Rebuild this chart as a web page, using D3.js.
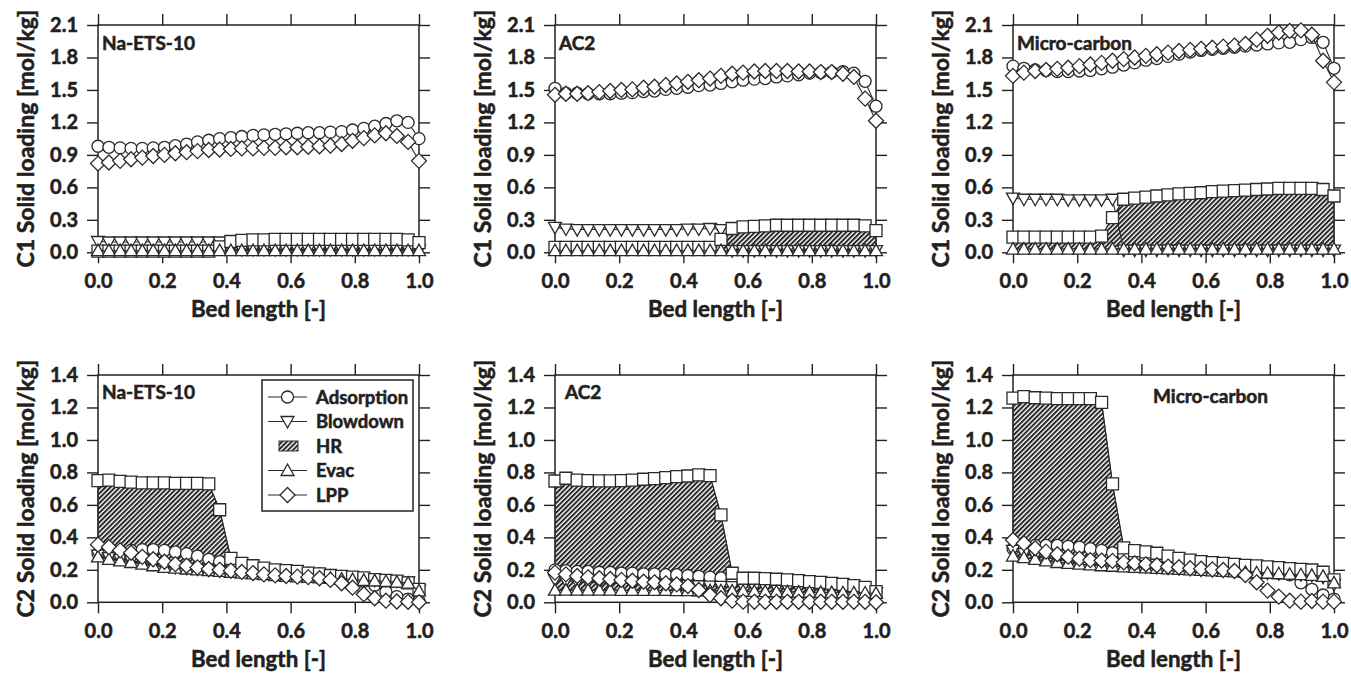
<!DOCTYPE html>
<html lang="en">
<head>
<meta charset="UTF-8">
<title>Solid loading profiles</title>
<style>
  body { margin: 0; background: #fff; }
  svg { display: block; background: #fff; }
  text { font-family: Lato, "Open Sans", sans-serif; font-weight: 700; fill: #231f20;
         stroke: #231f20; stroke-width: 0.55px; paint-order: stroke; }
</style>
<script src="https://d3js.org/d3.v7.min.js"></script>
</head>
<body>
<svg id="chart" width="1351" height="674"></svg>
<script>
// ---- data ----
const bedLength = [0, 0.034, 0.069, 0.103, 0.138, 0.172, 0.207, 0.241, 0.276, 0.310,
  0.345, 0.379, 0.414, 0.448, 0.483, 0.517, 0.552, 0.586, 0.621, 0.655,
  0.690, 0.724, 0.759, 0.793, 0.828, 0.862, 0.897, 0.931, 0.966, 1.000];

const xTicks = [0, 0.2, 0.4, 0.6, 0.8, 1.0];
const c1Ticks = [0, 0.3, 0.6, 0.9, 1.2, 1.5, 1.8, 2.1];
const c2Ticks = [0, 0.2, 0.4, 0.6, 0.8, 1.0, 1.2, 1.4];
const materials = ["Na-ETS-10", "AC2", "Micro-carbon"];
const stepNames = ["Adsorption", "Blowdown", "HR", "Evac", "LPP"];

// C1, Na-ETS-10
const c1NaAds  = [0.98,0.97,0.965,0.96,0.96,0.965,0.97,0.985,1.00,1.02,1.035,1.05,1.06,1.07,1.08,1.085,1.09,1.095,1.10,1.105,1.105,1.11,1.115,1.13,1.145,1.165,1.19,1.215,1.20,1.05];
const c1NaBlow = [0.10,0.095,0.095,0.095,0.095,0.095,0.095,0.095,0.095,0.095,0.095,0.095,0.03,0.025,0.025,0.025,0.025,0.025,0.025,0.025,0.025,0.025,0.025,0.025,0.025,0.025,0.025,0.025,0.025,0.02];
const c1NaHR   = [0.01,0.01,0.01,0.01,0.01,0.01,0.01,0.01,0.01,0.01,0.01,0.05,0.10,0.11,0.115,0.115,0.12,0.12,0.12,0.12,0.12,0.12,0.12,0.12,0.12,0.12,0.12,0.12,0.115,0.09];
const c1NaEvac = [0.015,0.015,0.015,0.015,0.015,0.015,0.015,0.015,0.015,0.015,0.015,0.015,0.015,0.015,0.015,0.015,0.015,0.015,0.015,0.015,0.015,0.015,0.015,0.015,0.015,0.015,0.015,0.015,0.015,0.015];
const c1NaLPP  = [0.82,0.83,0.845,0.86,0.875,0.89,0.90,0.915,0.925,0.935,0.945,0.95,0.955,0.96,0.96,0.965,0.965,0.97,0.97,0.975,0.98,0.985,1.00,1.03,1.055,1.08,1.10,1.075,1.02,0.845];

// C1, AC2
const c1AcAds  = [1.515,1.47,1.47,1.465,1.465,1.465,1.47,1.475,1.485,1.49,1.505,1.515,1.525,1.54,1.545,1.56,1.575,1.59,1.60,1.605,1.62,1.63,1.64,1.655,1.66,1.665,1.67,1.655,1.58,1.35];
const c1AcBlow = [0.23,0.215,0.21,0.21,0.21,0.21,0.21,0.21,0.21,0.21,0.21,0.21,0.215,0.215,0.22,0.21,0.015,0.015,0.015,0.015,0.015,0.015,0.015,0.015,0.015,0.015,0.015,0.015,0.015,0.015];
const c1AcHR   = [0.045,0.045,0.045,0.045,0.045,0.045,0.045,0.045,0.045,0.045,0.045,0.045,0.045,0.045,0.045,0.12,0.22,0.235,0.24,0.245,0.25,0.25,0.25,0.25,0.25,0.25,0.25,0.25,0.245,0.20];
const c1AcEvac = [0.015,0.015,0.015,0.015,0.015,0.015,0.015,0.015,0.015,0.015,0.015,0.015,0.015,0.015,0.015,0.015,0.015,0.015,0.015,0.015,0.015,0.015,0.015,0.015,0.015,0.015,0.015,0.015,0.015,0.015];
const c1AcLPP  = [1.455,1.465,1.465,1.47,1.48,1.49,1.50,1.505,1.52,1.53,1.545,1.56,1.575,1.59,1.605,1.63,1.65,1.66,1.67,1.675,1.675,1.675,1.67,1.67,1.665,1.665,1.65,1.62,1.42,1.215];

// C1, Micro-carbon
const c1McAds  = [1.72,1.70,1.685,1.68,1.67,1.67,1.675,1.68,1.695,1.71,1.73,1.75,1.775,1.79,1.81,1.83,1.85,1.865,1.875,1.885,1.895,1.905,1.915,1.925,1.935,1.94,1.965,1.985,1.94,1.70];
const c1McBlow = [0.50,0.49,0.49,0.49,0.49,0.485,0.485,0.485,0.485,0.49,0.02,0.02,0.02,0.02,0.02,0.02,0.02,0.02,0.02,0.02,0.02,0.02,0.02,0.02,0.02,0.02,0.02,0.02,0.02,0.02];
const c1McHR   = [0.14,0.14,0.14,0.14,0.14,0.14,0.14,0.14,0.15,0.32,0.49,0.50,0.51,0.52,0.53,0.54,0.545,0.55,0.56,0.565,0.57,0.575,0.58,0.585,0.59,0.59,0.59,0.59,0.58,0.52];
const c1McEvac = [0.03,0.03,0.03,0.03,0.03,0.03,0.03,0.03,0.03,0.03,0.03,0.03,0.03,0.03,0.03,0.03,0.03,0.03,0.03,0.03,0.03,0.03,0.03,0.03,0.03,0.03,0.03,0.03,0.03,0.03];
const c1McLPP  = [1.63,1.66,1.675,1.685,1.695,1.705,1.72,1.735,1.75,1.77,1.785,1.80,1.815,1.83,1.845,1.86,1.87,1.88,1.89,1.90,1.91,1.925,1.965,2.00,2.03,2.045,2.05,2.01,1.77,1.57];

// C2, Na-ETS-10
const c2NaAds  = [0.30,0.31,0.315,0.32,0.325,0.325,0.32,0.31,0.30,0.285,0.265,0.25,0.235,0.22,0.21,0.20,0.195,0.19,0.185,0.18,0.175,0.165,0.16,0.145,0.13,0.105,0.065,0.035,0.02,0.01];
const c2NaBlow = [0.29,0.275,0.265,0.255,0.245,0.235,0.225,0.215,0.21,0.205,0.20,0.195,0.19,0.185,0.18,0.175,0.17,0.165,0.162,0.158,0.155,0.152,0.148,0.145,0.14,0.137,0.133,0.13,0.125,0.075];
const c2NaHR   = [0.75,0.753,0.745,0.74,0.735,0.735,0.735,0.733,0.733,0.733,0.73,0.57,0.27,0.24,0.225,0.21,0.20,0.195,0.19,0.18,0.175,0.165,0.16,0.155,0.15,0.14,0.135,0.13,0.12,0.08];
const c2NaEvac = [0.28,0.265,0.255,0.245,0.235,0.225,0.215,0.21,0.205,0.20,0.195,0.19,0.185,0.18,0.175,0.17,0.165,0.16,0.157,0.153,0.15,0.147,0.143,0.14,0.135,0.132,0.128,0.124,0.118,0.07];
const c2NaLPP  = [0.355,0.34,0.32,0.305,0.28,0.265,0.25,0.235,0.225,0.215,0.205,0.20,0.195,0.187,0.18,0.172,0.166,0.162,0.158,0.155,0.148,0.138,0.117,0.09,0.05,0.025,0.01,0.005,0.003,0.0];

// C2, AC2
const c2AcAds  = [0.20,0.195,0.19,0.19,0.185,0.185,0.18,0.18,0.175,0.175,0.17,0.17,0.165,0.16,0.155,0.15,0.145,0.14,0.135,0.13,0.125,0.12,0.115,0.11,0.105,0.10,0.095,0.09,0.08,0.065];
const c2AcBlow = [0.14,0.13,0.125,0.122,0.12,0.118,0.116,0.114,0.112,0.11,0.108,0.106,0.104,0.102,0.10,0.098,0.096,0.094,0.092,0.09,0.088,0.086,0.084,0.082,0.08,0.078,0.075,0.072,0.068,0.06];
const c2AcHR   = [0.747,0.764,0.753,0.75,0.748,0.748,0.75,0.752,0.758,0.762,0.768,0.774,0.778,0.785,0.78,0.538,0.179,0.148,0.148,0.146,0.142,0.138,0.133,0.127,0.123,0.117,0.11,0.103,0.092,0.066];
const c2AcEvac = [0.075,0.075,0.075,0.075,0.075,0.075,0.074,0.074,0.074,0.073,0.073,0.072,0.072,0.071,0.07,0.07,0.069,0.068,0.067,0.066,0.065,0.064,0.063,0.062,0.061,0.06,0.059,0.058,0.057,0.055];
const c2AcLPP  = [0.183,0.172,0.162,0.154,0.148,0.144,0.138,0.133,0.127,0.123,0.117,0.11,0.10,0.076,0.045,0.025,0.01,0.004,0.003,0.003,0.003,0.003,0.003,0.003,0.003,0.003,0.003,0.003,0.003,0.0];

// C2, Micro-carbon
const c2McAds  = [0.33,0.345,0.35,0.35,0.35,0.345,0.34,0.33,0.32,0.305,0.29,0.275,0.265,0.255,0.245,0.235,0.225,0.22,0.215,0.21,0.205,0.20,0.195,0.19,0.18,0.17,0.12,0.08,0.045,0.02];
const c2McBlow = [0.32,0.30,0.285,0.275,0.265,0.255,0.25,0.245,0.24,0.235,0.23,0.225,0.22,0.215,0.21,0.207,0.204,0.20,0.197,0.194,0.19,0.187,0.184,0.18,0.177,0.173,0.17,0.165,0.155,0.11];
const c2McHR   = [1.257,1.267,1.26,1.257,1.255,1.255,1.255,1.255,1.232,0.729,0.335,0.318,0.31,0.302,0.285,0.271,0.26,0.25,0.244,0.24,0.234,0.228,0.224,0.218,0.214,0.207,0.203,0.199,0.185,0.138];
const c2McEvac = [0.285,0.275,0.265,0.255,0.245,0.24,0.235,0.23,0.225,0.222,0.218,0.215,0.212,0.209,0.206,0.203,0.20,0.197,0.194,0.191,0.188,0.185,0.182,0.179,0.176,0.173,0.17,0.166,0.16,0.12];
const c2McLPP  = [0.384,0.363,0.333,0.312,0.296,0.281,0.269,0.26,0.257,0.255,0.246,0.24,0.234,0.228,0.22,0.216,0.21,0.207,0.203,0.199,0.193,0.168,0.123,0.072,0.035,0.01,0.004,0.008,0.004,0.004];

// ---- layout ----
const colLeft = [98, 555, 1013];
const rowTop = [25, 375];
const plotW = 321, plotH = 227.3;
const ink = "#231f20";

const panels = [
  { row: 0, col: 0, comp: "C1", ticks: c1Ticks, data: [c1NaAds, c1NaBlow, c1NaHR, c1NaEvac, c1NaLPP], label: [4, 25] },
  { row: 0, col: 1, comp: "C1", ticks: c1Ticks, data: [c1AcAds, c1AcBlow, c1AcHR, c1AcEvac, c1AcLPP], label: [4, 25] },
  { row: 0, col: 2, comp: "C1", ticks: c1Ticks, data: [c1McAds, c1McBlow, c1McHR, c1McEvac, c1McLPP], label: [4, 25] },
  { row: 1, col: 0, comp: "C2", ticks: c2Ticks, data: [c2NaAds, c2NaBlow, c2NaHR, c2NaEvac, c2NaLPP], label: [4, 24], legend: true },
  { row: 1, col: 1, comp: "C2", ticks: c2Ticks, data: [c2AcAds, c2AcBlow, c2AcHR, c2AcEvac, c2AcLPP], label: [10, 24] },
  { row: 1, col: 2, comp: "C2", ticks: c2Ticks, data: [c2McAds, c2McBlow, c2McHR, c2McEvac, c2McLPP], label: [140, 28] }
];

// marker shapes, keyed by step
const markers = {
  Adsorption: "M6,0A6,6 0 1,1 -6,0A6,6 0 1,1 6,0Z",
  Blowdown: "M0,6.5L6.5,-5L-6.5,-5Z",
  HR: "M-6,-6H6V6H-6Z",
  Evac: "M0,-6.5L6.5,5L-6.5,5Z",
  LPP: "M0,-7.5L7.5,0L0,7.5L-7.5,0Z"
};

const svg = d3.select("#chart");

// hatch used for the HR band
svg.append("defs").append("pattern")
  .attr("id", "hatch")
  .attr("patternUnits", "userSpaceOnUse")
  .attr("width", 3.4).attr("height", 3.4)
  .attr("patternTransform", "rotate(45)")
  .append("rect")
  .attr("x", 0).attr("y", 0).attr("width", 2).attr("height", 3.4)
  .attr("fill", "#262626");

panels.forEach(p => {
  const left = colLeft[p.col], top = rowTop[p.row];
  const x = d3.scaleLinear().domain([0, 1]).range([left, left + plotW]);
  const y = d3.scaleLinear().domain([0, d3.max(p.ticks)]).range([top + plotH, top]);
  const g = svg.append("g");

  // axes: ticks outward on all four sides
  const fmt = d3.format(".1f");
  g.append("g").attr("transform", `translate(0,${top + plotH})`)
    .call(d3.axisBottom(x).tickValues(xTicks).tickSize(11).tickSizeOuter(0).tickPadding(11).tickFormat(fmt));
  g.append("g").attr("transform", `translate(0,${top})`)
    .call(d3.axisTop(x).tickValues(xTicks).tickSize(11).tickSizeOuter(0).tickFormat(""));
  g.append("g").attr("transform", `translate(${left},0)`)
    .call(d3.axisLeft(y).tickValues(p.ticks).tickSize(11).tickSizeOuter(0).tickPadding(9).tickFormat(fmt));
  g.append("g").attr("transform", `translate(${left + plotW},0)`)
    .call(d3.axisRight(y).tickValues(p.ticks).tickSize(11).tickSizeOuter(0).tickFormat(""));
  g.selectAll(".domain").remove();
  g.selectAll(".tick line").attr("stroke", ink).attr("stroke-width", 1.4);
  g.selectAll(".tick text").attr("font-size", 20).attr("fill", ink)
    .attr("font-family", "Lato, 'Open Sans', sans-serif").attr("font-weight", 700);

  g.append("rect")
    .attr("x", left).attr("y", top).attr("width", plotW).attr("height", plotH)
    .attr("fill", "none").attr("stroke", ink).attr("stroke-width", 1.5);

  // axis titles
  g.append("text")
    .attr("x", left + plotW / 2).attr("y", top + plotH + 65)
    .attr("text-anchor", "middle").attr("font-size", 22.3)
    .text("Bed length [-]");
  g.append("text")
    .attr("transform", `translate(${left - 64},${top + plotH / 2}) rotate(-90)`)
    .attr("text-anchor", "middle").attr("font-size", 23)
    .text(`${p.comp} Solid loading [mol/kg]`);

  g.append("text")
    .attr("x", left + p.label[0]).attr("y", top + p.label[1])
    .attr("font-size", 19)
    .text(materials[p.col]);

  // HR band between the evacuation and heavy-reflux profiles
  const hr = p.data[2], evac = p.data[3];
  const band = d3.area()
    .x((d, i) => x(bedLength[i]))
    .y0((d, i) => y(evac[i]))
    .y1(d => y(d));
  g.append("path").datum(hr)
    .attr("d", band)
    .attr("fill", "url(#hatch)")
    .attr("stroke", "#333").attr("stroke-width", 1);

  const line = d3.line().x((d, i) => x(bedLength[i])).y(d => y(d));
  p.data.forEach((vals, k) => {
    const step = stepNames[k];
    g.append("path").datum(vals)
      .attr("d", line)
      .attr("fill", "none").attr("stroke", "#2a2a2a").attr("stroke-width", 1.1);
    g.selectAll(null).data(vals).enter().append("path")
      .attr("d", markers[step])
      .attr("transform", (d, i) => `translate(${x(bedLength[i])},${y(d)})`)
      .attr("fill", "#fff").attr("stroke", "#2a2a2a").attr("stroke-width", 1.3);
  });

  if (p.legend) {
    const lg = g.append("g").attr("transform", `translate(${left + 164},${top + 5})`);
    lg.append("rect").attr("width", 151).attr("height", 131)
      .attr("fill", "#fff").attr("stroke", ink).attr("stroke-width", 1.5);
    stepNames.forEach((step, k) => {
      const cy = 17 + k * 24.5;
      const row = lg.append("g").attr("transform", `translate(0,${cy})`);
      if (step === "HR") {
        row.append("rect").attr("x", 17).attr("y", -5).attr("width", 19).attr("height", 10)
          .attr("fill", "url(#hatch)").attr("stroke", "#333").attr("stroke-width", 1);
      } else {
        row.append("line").attr("x1", 6).attr("x2", 45).attr("stroke", "#2a2a2a").attr("stroke-width", 1.1);
        row.append("path").attr("d", markers[step]).attr("transform", "translate(25.5,0)")
          .attr("fill", "#fff").attr("stroke", "#2a2a2a").attr("stroke-width", 1.3);
      }
      row.append("text").attr("x", 54).attr("y", 6.5).attr("font-size", 18.5).text(step);
    });
  }
});
</script>
</body>
</html>
